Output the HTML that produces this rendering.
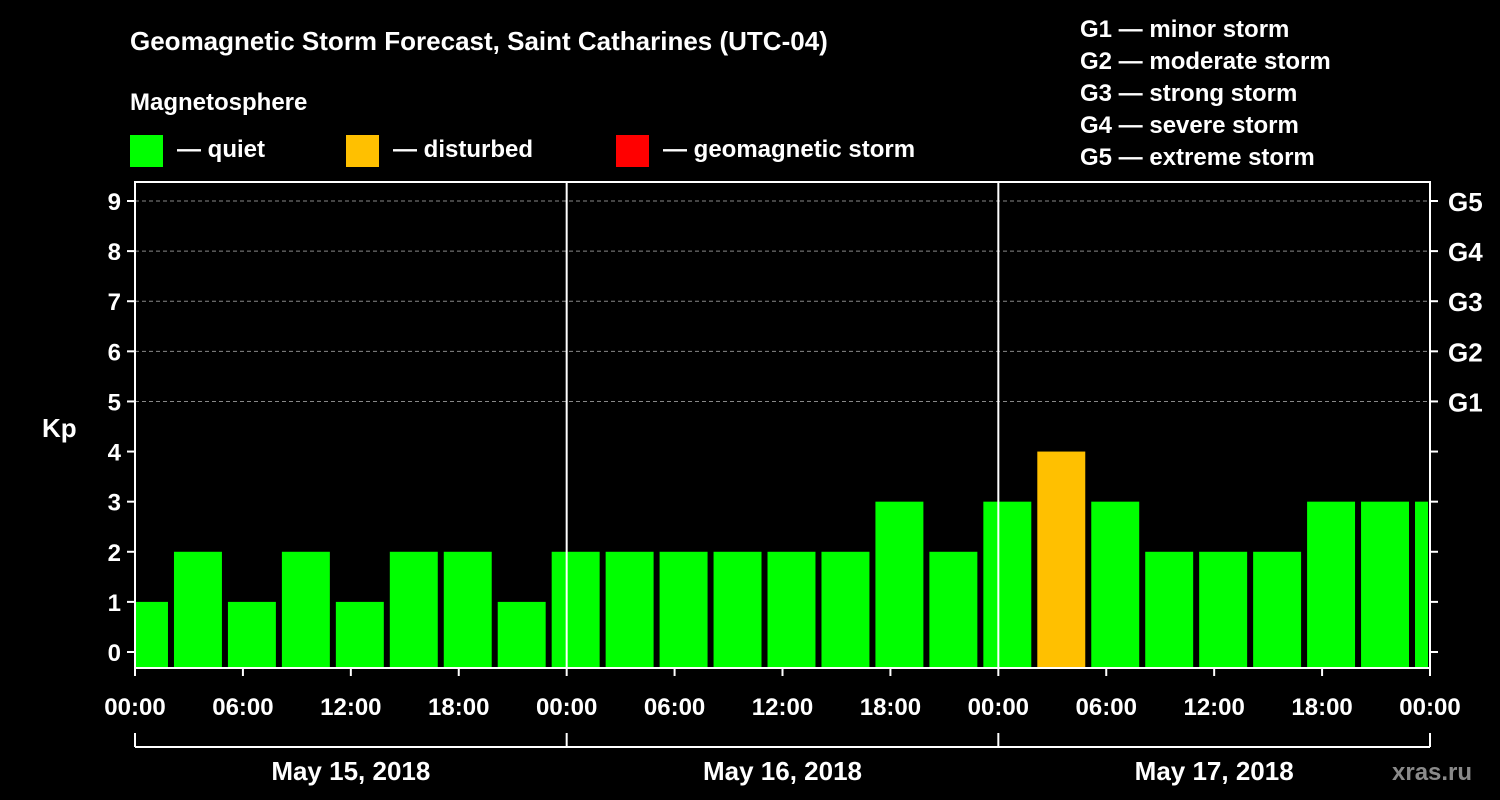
<!DOCTYPE html>
<html><head><meta charset="utf-8"><style>
html,body{margin:0;padding:0;background:#000;width:1500px;height:800px;overflow:hidden}
svg text{font-family:"Liberation Sans",Arial,sans-serif;font-weight:bold;fill:#fff}
</style></head><body>
<svg id="chart" width="1500" height="800" xmlns="http://www.w3.org/2000/svg">
<text x="130" y="50" font-size="26">Geomagnetic Storm Forecast, Saint Catharines  (UTC-04)</text>
<text x="130" y="110" font-size="24">Magnetosphere</text>
<g><rect x="130" y="135" width="33" height="32" fill="#00ff00"/><text x="177" y="157" font-size="24">— quiet</text></g>
<g><rect x="346" y="135" width="33" height="32" fill="#ffc000"/><text x="393" y="157" font-size="24">— disturbed</text></g>
<g><rect x="616" y="135" width="33" height="32" fill="#ff0000"/><text x="663" y="157" font-size="24">— geomagnetic storm</text></g>
<g font-size="24">
<text x="1080" y="37">G1 — minor storm</text>
<text x="1080" y="69">G2 — moderate storm</text>
<text x="1080" y="101">G3 — strong storm</text>
<text x="1080" y="133">G4 — severe storm</text>
<text x="1080" y="165">G5 — extreme storm</text>
</g>
<text x="42" y="437" font-size="26">Kp</text>
<g id="grid"></g><g id="bars"></g><g id="axes"></g>
<text x="1392" y="780" font-size="24" fill="#888" style="fill:#8a8a8a">xras.ru</text>
</svg>
<script>
const kpValues=[1,2,1,2,1,2,2,1,2,2,2,2,2,2,3,2,3,4,3,2,2,2,3,3,3];
const startHour=-1;
const yTicks=[0,1,2,3,4,5,6,7,8,9];
const gLabels=["G1","G2","G3","G4","G5"];
const xTickLabels=["00:00","06:00","12:00","18:00","00:00","06:00","12:00","18:00","00:00","06:00","12:00","18:00","00:00"];
const dayLabels=["May 15, 2018","May 16, 2018","May 17, 2018"];
const NS="http://www.w3.org/2000/svg";
const X0=135,X1=1430,TOP=182,BOT=668;
const x=h=>X0+h*(X1-X0)/72;
const y=v=>652-v*(652-201)/9;
function mk(t,a,p){const e=document.createElementNS(NS,t);for(const k in a)e.setAttribute(k,a[k]);document.getElementById(p).appendChild(e);return e;}
// grid
yTicks.forEach(v=>{if(v>=5){const l=mk('line',{x1:X0,x2:X1,y1:y(v),y2:y(v),stroke:'#888','stroke-dasharray':'4,3','stroke-width':1},'grid');

}});
// bars
kpValues.forEach((v,i)=>{const h0=startHour+i*3;let a=x(h0)+3,b=x(h0+3)-3;a=Math.max(a,X0+1);b=Math.min(b,X1-2);
const r=mk('rect',{x:a,y:y(v),width:b-a,height:BOT-y(v),fill:v>=5?'#ff0000':(v>=4?'#ffc000':'#00ff00')},'bars');

});
// axes
const fr=mk('rect',{x:X0,y:TOP,width:X1-X0,height:BOT-TOP,fill:'none',stroke:'#fff','stroke-width':2},'axes');


[24,48].forEach(h=>{const l=mk('line',{x1:x(h),x2:x(h),y1:TOP,y2:BOT,stroke:'#fff','stroke-width':2},'axes');

});
yTicks.forEach(v=>{mk('line',{x1:X0-8,x2:X0,y1:y(v),y2:y(v),stroke:'#fff','stroke-width':2},'axes');
mk('line',{x1:X1,x2:X1+8,y1:y(v),y2:y(v),stroke:'#fff','stroke-width':2},'axes');
const t=mk('text',{x:X0-14,y:y(v)+9,'font-size':24,'text-anchor':'end'},'axes');t.textContent=v;

});
gLabels.forEach((g,i)=>{const t=mk('text',{x:1448,y:y(5+i)+10,'font-size':26},'axes');t.textContent=g;

});
xTickLabels.forEach((s,i)=>{const xx=x(i*6);mk('line',{x1:xx,x2:xx,y1:BOT,y2:BOT+8,stroke:'#fff','stroke-width':2},'axes');
const t=mk('text',{x:xx,y:715,'font-size':24,'text-anchor':'middle'},'axes');t.textContent=s;

});
mk('line',{x1:X0,x2:X1,y1:747,y2:747,stroke:'#fff','stroke-width':2},'axes');
[0,24,48,72].forEach(h=>mk('line',{x1:x(h),x2:x(h),y1:733,y2:747,stroke:'#fff','stroke-width':2},'axes'));
dayLabels.forEach((s,i)=>{const t=mk('text',{x:x(i*24+12),y:780,'font-size':26,'text-anchor':'middle'},'axes');t.textContent=s;

});
</script>
</body></html>
